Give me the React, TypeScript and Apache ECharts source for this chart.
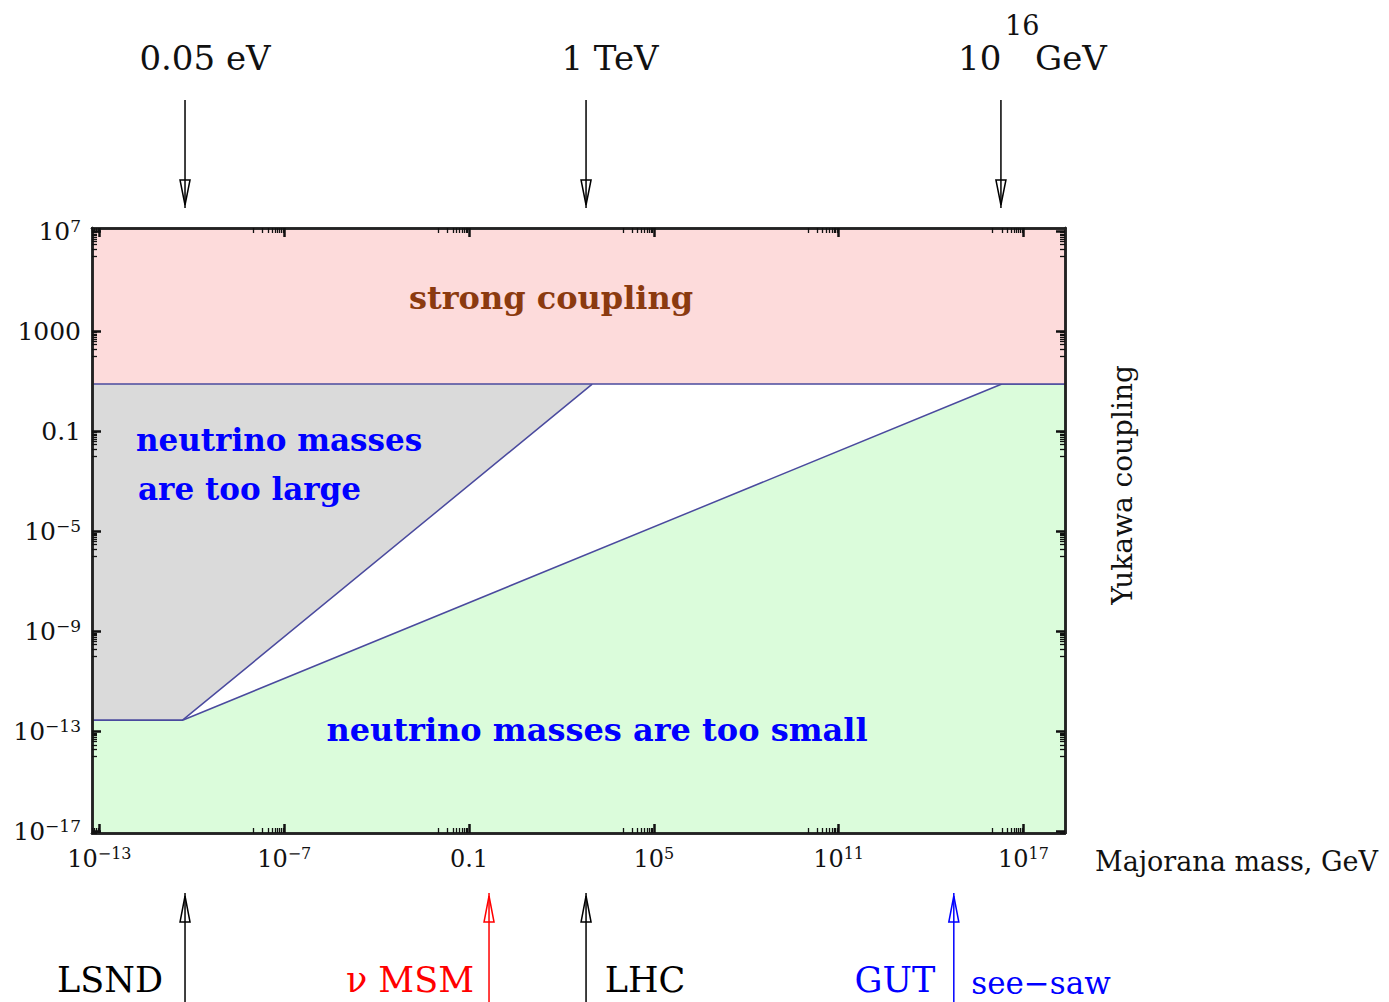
import React, { useEffect, useRef } from 'react';
import * as echarts from 'echarts';

// axis ranges (log10 of Majorana mass in GeV, log10 of Yukawa coupling)
const X_RANGE = [-13.24, 18.35];
const Y_RANGE = [-17.05, 7.14];
const xMajorTicks = [-13, -7, -1, 5, 11, 17];
const yMajorTicks = [-17, -13, -9, -5, -1, 3, 7];

// region boundaries (log10 M, log10 F)
const strongCouplingBoundary = [[-13.24, 0.9], [18.35, 0.9]];
const largeMassBoundary = [[-13.24, -12.54], [-10.3, -12.54], [3.0, 0.9]];
const smallMassBoundary = [[-13.24, -12.54], [-10.3, -12.54], [16.3, 0.9], [18.35, 0.9]];

// scale markers (log10 M)
const topMarkerLogM = [-10.22, 2.8, 16.27];
const bottomMarkerNames = ['LSND', 'ν MSM', 'LHC', 'GUT'];
const bottomMarkerLogM = [-10.22, -0.35, 2.8, 14.74];
const bottomMarkerColors = ['#000000', '#ff0000', '#000000', '#0000ff'];

const SERIF = "'DejaVu Serif', serif";
const minorOf = (majors: number[]) =>
  majors.flatMap((n) => [1, 2, 3, 4, 5, 6, 7, 8, 9].map((k) => n - 1 + Math.log10(k)));

const fmtPow = (v: number) => {
  if (v === -1) return '{b|0.1}';
  if (v === 3) return '{b|1000}';
  const e = v < 0 ? '−' + Math.abs(v) : String(v);
  return `{b|10}{s|${e}}`;
};
const richX = {
  b: { fontSize: 24, fontFamily: SERIF, color: '#111', lineHeight: 28 },
  s: { fontSize: 16, fontFamily: SERIF, color: '#111', verticalAlign: 'top', lineHeight: 16 },
};
const richY = {
  b: { fontSize: 25, fontFamily: SERIF, color: '#111', lineHeight: 28 },
  s: { fontSize: 17, fontFamily: SERIF, color: '#111', verticalAlign: 'top', lineHeight: 16 },
};

export default function App() {
  const ref = useRef<HTMLDivElement>(null);
  useEffect(() => {
    if (!ref.current) return;
    const chart = echarts.init(ref.current, null, { renderer: 'svg' });
    const grid = { left: 92, top: 228, width: 973, height: 605 };
    const axisLine = { show: true, onZero: false, lineStyle: { color: '#222', width: 2.5 } };
    const majorTick = (vals: number[]) => ({
      show: true, inside: true, length: 9, customValues: vals,
      lineStyle: { color: '#111', width: 2.5 },
    });
    const minorTick = (vals: number[]) => ({
      show: true, inside: true, length: 5, customValues: vals,
      lineStyle: { color: '#111', width: 1.3 },
    });
    const xMinor = minorOf(xMajorTicks).filter((v) => v > X_RANGE[0] && v < X_RANGE[1]);
    const yMinor = minorOf(yMajorTicks).filter((v) => v > Y_RANGE[0] && v < Y_RANGE[1]);
    const base = { type: 'value', splitLine: { show: false }, axisLine, z: 20 };
    const xBase = { ...base, min: X_RANGE[0], max: X_RANGE[1] };
    const yBase = { ...base, min: Y_RANGE[0], max: Y_RANGE[1] };
    const lineColor = '#4a4a9e';
    const lineSeries = (data: number[][], fill: string, origin: string, z: number) => ({
      type: 'line', data, xAxisIndex: 0, yAxisIndex: 0, showSymbol: false, symbol: 'none',
      silent: true, z,
      lineStyle: { color: lineColor, width: 1.5 },
      areaStyle: { color: fill, opacity: 1, origin },
    });
    chart.setOption({
      animation: false,
      backgroundColor: '#ffffff',
      grid: [grid, grid],
      xAxis: [
        { ...xBase, gridIndex: 0, position: 'bottom', axisTick: majorTick(xMajorTicks),
          axisLabel: { customValues: xMajorTicks, formatter: fmtPow, rich: richX, margin: 12 } },
        { ...xBase, gridIndex: 0, position: 'top', axisTick: majorTick(xMajorTicks), axisLabel: { show: false } },
        { ...xBase, gridIndex: 1, position: 'bottom', axisTick: minorTick(xMinor), axisLabel: { show: false } },
        { ...xBase, gridIndex: 1, position: 'top', axisTick: minorTick(xMinor), axisLabel: { show: false } },
      ],
      yAxis: [
        { ...yBase, gridIndex: 0, position: 'left', axisTick: majorTick(yMajorTicks),
          axisLabel: { customValues: yMajorTicks, formatter: fmtPow, rich: richY, margin: 11 } },
        { ...yBase, gridIndex: 0, position: 'right', axisTick: majorTick(yMajorTicks), axisLabel: { show: false } },
        { ...yBase, gridIndex: 1, position: 'left', axisTick: minorTick(yMinor), axisLabel: { show: false } },
        { ...yBase, gridIndex: 1, position: 'right', axisTick: minorTick(yMinor), axisLabel: { show: false } },
      ],
      series: [
        lineSeries(largeMassBoundary, '#dadada', 'end', 1),
        lineSeries(smallMassBoundary, '#dbfcdb', 'start', 2),
        lineSeries(strongCouplingBoundary, '#fddbdb', 'end', 3),
      ],
    });

    const graphics: any[] = [];
    const txt = (text: string, x: number, y: number, size: number, color: string, align = 'center', extra: any = {}) => ({
      type: 'text', x, y, silent: true, z: 100,
      style: { text, fontSize: size, fontFamily: SERIF, fill: color, align, verticalAlign: 'middle', ...extra },
    });
    topMarkerLogM.forEach((v) => {
      const px = chart.convertToPixel({ xAxisIndex: 0 }, v) as number;
      graphics.push({ type: 'line', silent: true, shape: { x1: px, y1: 100, x2: px, y2: 208 }, style: { stroke: '#000', lineWidth: 1.5 } });
      graphics.push({ type: 'polygon', silent: true, shape: { points: [[px - 5, 180], [px + 5, 180], [px, 205]] }, style: { fill: 'none', stroke: '#000', lineWidth: 1.5 } });
    });
    bottomMarkerLogM.forEach((v, i) => {
      const px = chart.convertToPixel({ xAxisIndex: 0 }, v) as number;
      const c = bottomMarkerColors[i];
      graphics.push({ type: 'line', silent: true, shape: { x1: px, y1: 893, x2: px, y2: 1002 }, style: { stroke: c, lineWidth: 1.5 } });
      graphics.push({ type: 'polygon', silent: true, shape: { points: [[px, 896], [px - 5, 922], [px + 5, 922]] }, style: { fill: 'none', stroke: c, lineWidth: 1.5 } });
    });
    graphics.push(txt('0.05 eV', 205, 58, 34, '#111'));
    graphics.push(txt('1 TeV', 610, 58, 34, '#111'));
    graphics.push(txt('10', 958, 58, 34, '#111', 'left'));
    graphics.push(txt('16', 1005, 25, 27, '#111', 'left'));
    graphics.push(txt('GeV', 1035, 58, 34, '#111', 'left'));
    const bottomLabelX = [110, 410, 645, 895];
    bottomMarkerNames.forEach((n, i) => graphics.push(txt(n, bottomLabelX[i], 980, 35, bottomMarkerColors[i])));
    graphics.push(txt('see−saw', 1041, 983, 31, '#0000ff'));
    graphics.push(txt('Majorana mass, GeV', 1095, 861, 27, '#111', 'left'));
    graphics.push({ ...txt('Yukawa coupling', 1122, 485, 28, '#111'), rotation: Math.PI / 2 });
    graphics.push(txt('strong coupling', 551, 298, 32, '#8b3a0f', 'center', { fontWeight: 'bold' }));
    graphics.push(txt('neutrino masses', 136, 440, 31, '#0000ff', 'left', { fontWeight: 'bold' }));
    graphics.push(txt('are too large', 138, 489, 31, '#0000ff', 'left', { fontWeight: 'bold' }));
    graphics.push(txt('neutrino masses are too small', 597, 730, 32, '#0000ff', 'center', { fontWeight: 'bold' }));
    chart.setOption({ graphic: graphics });
    return () => chart.dispose();
  }, []);
  return <div ref={ref} style={{ position: 'fixed', left: 0, top: 0, width: 1389, height: 1002 }} />;
}
